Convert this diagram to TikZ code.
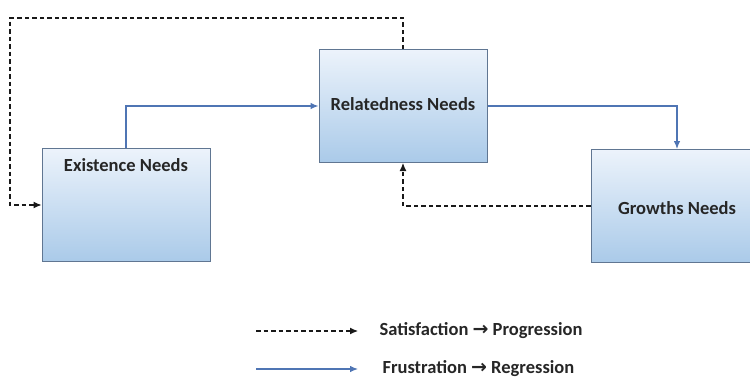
\documentclass[tikz,border=0pt]{standalone}
\usepackage{fontspec}
\setmainfont{Carlito}
\newfontfamily\arrowfont{DejaVu Sans}
\usetikzlibrary{arrows.meta}
\definecolor{boxline}{RGB}{96,118,146}
\definecolor{boxtop}{RGB}{236,243,251}
\definecolor{boxbottom}{RGB}{170,202,233}
\definecolor{frustblue}{RGB}{79,117,180}
\newcommand{\needarrow}[0]{{\arrowfont\bfseries\fontsize{19}{20}\selectfont→}}

\begin{document}
\begin{tikzpicture}[x=1pt, y=-1pt,
  needbox/.style={rectangle, draw=boxline, line width=1pt, top color=boxtop, bottom color=boxbottom, minimum width=168pt, minimum height=113pt},
  needtext/.style={font=\fontsize{18.5}{21}\selectfont\bfseries, text=black!85},
  satline/.style={draw=black!90, line width=1.1pt, dash pattern=on 4.5pt off 3pt, -{Latex[length=8pt,width=7pt]}},
  frustline/.style={draw=frustblue, line width=1.1pt, -{Latex[length=8pt,width=6.5pt]}}]

\useasboundingbox (0,0) rectangle (750,378);

% Cajas
\node[needbox] at (126,205) (exist) {};
\node[needtext] at (126,165) (existText) {Existence Needs};

\node[needbox] at (403,106) (rel) {};
\node[needtext] at (403,104) (relText) {Relatedness Needs};

\node[needbox, minimum width=172pt] at (677,206) (grow) {};
\node[needtext] at (677,208) (growText) {Growths Needs};

% Frustracion
\draw[frustline] (exist.north) |- (rel.west);
\draw[frustline] (rel.east) -| (grow.north);

% Satisfaccion
\coordinate (topLeft) at (10,18);
\draw[satline] (rel.north) |- (topLeft) |- (exist.west);
\draw[satline] (grow.west) -| (rel.south);

% Leyenda
\coordinate (satStart) at (256,331);
\coordinate (satEnd) at (358,331);
\node[needtext, anchor=west] at (376,331) (satText) {Satisfaction \needarrow{} Progression};
\draw[satline] (satStart) -- (satEnd);

\coordinate (frustStart) at (256,369);
\coordinate (frustEnd) at (358,369);
\node[needtext, anchor=west] at (379,369) (frustText) {Frustration \needarrow{} Regression};
\draw[frustline] (frustStart) -- (frustEnd);

\end{tikzpicture}
\end{document}
